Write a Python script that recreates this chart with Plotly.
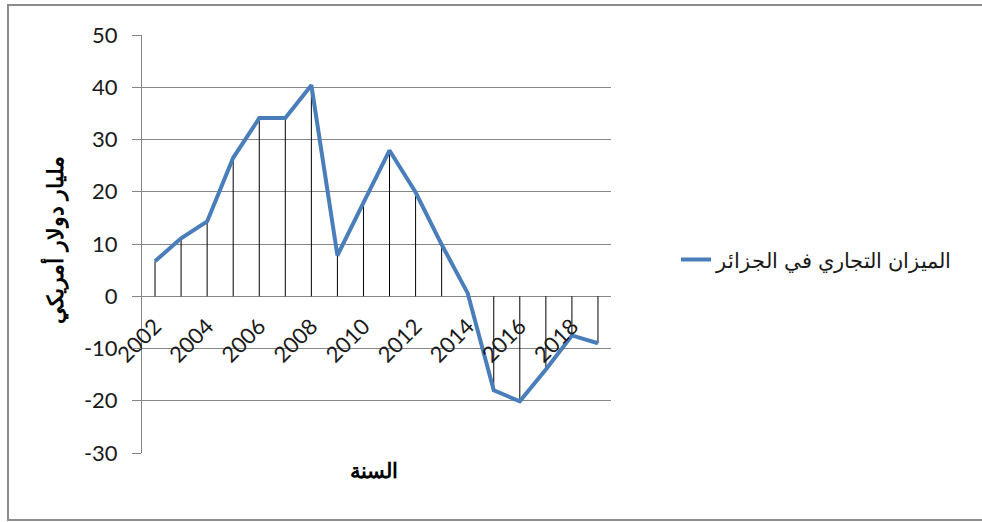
import plotly.graph_objects as go

years = list(range(2002, 2020))
balance = [6.7, 11.1, 14.3, 26.5, 34.1, 34.1, 40.4, 7.8, 17.9, 27.9, 19.9, 9.9, 0.6,
           -18.0, -20.1, -14.0, -7.5, -9.0]
tick_years = [2002, 2004, 2006, 2008, 2010, 2012, 2014, 2016, 2018]
y_ticks = [-30, -20, -10, 0, 10, 20, 30, 40, 50]
y_ticktext = ["-30", "-20", "-10", "0", "10", "20", "30", "40", "50"]
series_name = "الميزان التجاري في الجزائر"
y_title = "مليار دولار أمريكي"
x_title = "السنة"

drop_x, drop_y = [], []
for x, y in zip(years, balance):
    drop_x += [x, x, None]
    drop_y += [0, y, None]

fig = go.Figure()
fig.add_trace(go.Scatter(x=drop_x, y=drop_y, mode="lines",
                         line=dict(color="#000000", width=1), showlegend=False,
                         hoverinfo="skip"))
fig.add_trace(go.Scatter(x=years, y=balance, mode="lines", name=series_name,
                         line=dict(color="#4A7EBB", width=4)))

tick_font = dict(family="Lato, Carlito, sans-serif", size=22, color="#1a1a1a")
fig.update_layout(
    width=982, height=522,
    margin=dict(l=142, r=371, t=35, b=69),
    paper_bgcolor="white", plot_bgcolor="white",
    showlegend=True,
    legend=dict(x=1.1386, y=0.462, xanchor="left", yanchor="middle",
                font=dict(family="Liberation Sans, Arial, sans-serif", size=21, color="#1a1a1a"),
                bgcolor="rgba(0,0,0,0)"),
    xaxis=dict(range=[2001.5, 2019.5], tickvals=tick_years,
               ticktext=[str(t) for t in tick_years], tickangle=-45,
               anchor="free", position=0.375, showgrid=False, zeroline=False,
               showline=False, ticks="", ticklabelstandoff=12, tickfont=tick_font),
    yaxis=dict(range=[-30, 50], tickvals=y_ticks, ticktext=y_ticktext,
               showgrid=True, gridcolor="#868686",
               gridwidth=1, zeroline=False, showline=True, linecolor="#868686",
               ticks="outside", ticklen=9, tickcolor="#868686",
               ticklabelstandoff=10, tickfont=tick_font),
    annotations=[
        dict(text="<b>" + y_title + "</b>", textangle=-90, xref="paper", yref="paper",
             x=-0.186, y=0.51, xanchor="center", showarrow=False,
             font=dict(family="Liberation Sans, Arial, sans-serif", size=22, color="#000000")),
        dict(text="<b>" + x_title + "</b>", xref="paper", yref="paper",
             x=0.495, y=-0.01, yanchor="top", showarrow=False,
             font=dict(family="Liberation Sans, Arial, sans-serif", size=21, color="#000000")),
    ],
    shapes=[dict(type="rect", xref="paper", yref="paper",
                 x0=(8 - 142) / 469, x1=(990 - 142) / 469,
                 y0=(453 - 520) / 418, y1=(453 - 5) / 418,
                 line=dict(color="#8c8c8c", width=2))],
)

fig.write_html("out.html")
